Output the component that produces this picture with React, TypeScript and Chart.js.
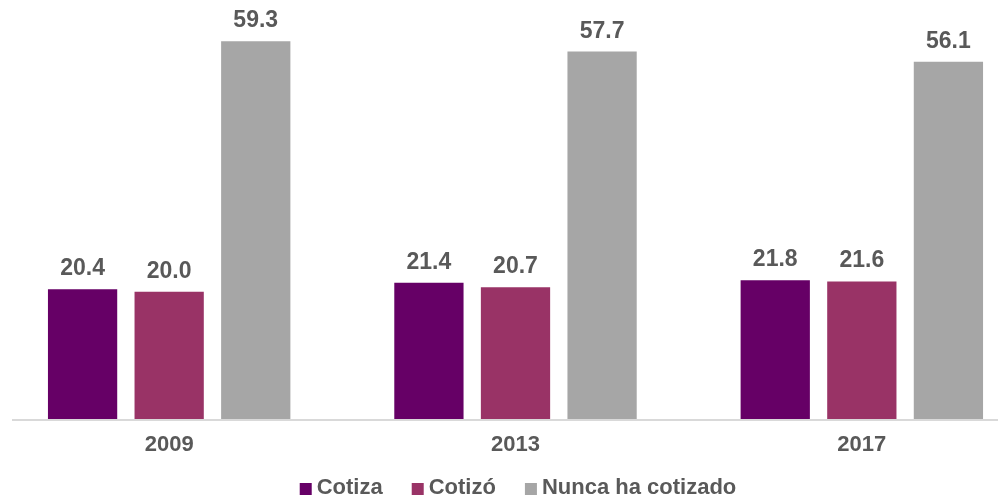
import React, { useEffect, useRef } from "react";
import { Chart, registerables } from "chart.js";

Chart.register(...registerables);

const categories = ["2009", "2013", "2017"];
const cotiza = [20.4, 21.4, 21.8];
const cotizo = [20.0, 20.7, 21.6];
const nunca = [59.3, 57.7, 56.1];
const seriesNames = ["Cotiza", "Cotizó", "Nunca ha cotizado"];
const seriesColors = ["#660066", "#993366", "#a6a6a6"];

const FONT = "'Liberation Sans', Arial, sans-serif";
const TEXT = "#595959";

const valueLabels = {
  id: "valueLabels",
  afterDatasetsDraw(chart: any) {
    const ctx = chart.ctx;
    ctx.save();
    ctx.font = `bold 23px ${FONT}`;
    ctx.fillStyle = TEXT;
    ctx.textAlign = "center";
    ctx.textBaseline = "alphabetic";
    chart.data.datasets.forEach((ds: any, i: number) => {
      const meta = chart.getDatasetMeta(i);
      meta.data.forEach((bar: any, j: number) => {
        ctx.fillText(Number(ds.data[j]).toFixed(1), bar.x, bar.y - 14);
      });
    });
    ctx.restore();
  },
};

const baseLine = {
  id: "baseLine",
  beforeDatasetsDraw(chart: any) {
    const { ctx, chartArea } = chart;
    const y = chart.scales.y.getPixelForValue(0);
    ctx.save();
    ctx.strokeStyle = "#d9d9d9";
    ctx.lineWidth = 2;
    ctx.beginPath();
    ctx.moveTo(chartArea.left + 16, y + 1);
    ctx.lineTo(chartArea.right, y + 1);
    ctx.stroke();
    ctx.restore();
  },
};

const bottomLegend = {
  id: "bottomLegend",
  afterDraw(chart: any) {
    const ctx = chart.ctx;
    const box = 12;
    const textGap = 5;
    const itemGap = 29;
    ctx.save();
    ctx.font = `bold 22px ${FONT}`;
    const items = chart.data.datasets.map((ds: any) => ({
      label: ds.label,
      color: ds.backgroundColor,
      w: ctx.measureText(ds.label).width,
    }));
    const total =
      items.reduce((s: number, it: any) => s + box + textGap + it.w, 0) + itemGap * (items.length - 1);
    const centerX = 522;
    const cy = 488;
    let x = centerX - total / 2;
    ctx.textBaseline = "middle";
    ctx.textAlign = "left";
    items.forEach((it: any) => {
      ctx.fillStyle = it.color;
      ctx.fillRect(x, cy - box / 2 + 1, box, box);
      ctx.fillStyle = TEXT;
      ctx.fillText(it.label, x + box + textGap, cy);
      x += box + textGap + it.w + itemGap;
    });
    ctx.restore();
  },
};

export default function App() {
  const ref = useRef<HTMLCanvasElement | null>(null);
  useEffect(() => {
    if (!ref.current) return;
    const values = [cotiza, cotizo, nunca];
    const chart = new Chart(ref.current, {
      type: "bar",
      data: {
        labels: categories,
        datasets: values.map((v, i) => ({
          label: seriesNames[i],
          data: v,
          backgroundColor: seriesColors[i],
          borderWidth: 0,
          categoryPercentage: 0.75,
          barPercentage: 0.8,
        })),
      },
      options: {
        responsive: false,
        animation: false,
        layout: { padding: { top: 5, left: 0, right: 0, bottom: 28.5 } },
        plugins: {
          tooltip: { enabled: false },
          legend: { display: false },
        },
        scales: {
          x: {
            grid: { display: false, drawTicks: false },
            border: { display: false },
            ticks: {
              color: TEXT,
              padding: 13,
              font: { family: FONT, size: 22, weight: "bold" },
            },
          },
          y: {
            display: false,
            min: 0,
            max: 65,
          },
        },
      },
      plugins: [baseLine, valueLabels, bottomLegend],
    });
    return () => chart.destroy();
  }, []);
  return (
    <div style={{ position: "absolute", left: 0, top: 0, width: 998, height: 500, overflow: "hidden", background: "#fff" }}>
      <canvas ref={ref} width={1039} height={500} style={{ position: "absolute", left: -4, top: 0 }} />
    </div>
  );
}
